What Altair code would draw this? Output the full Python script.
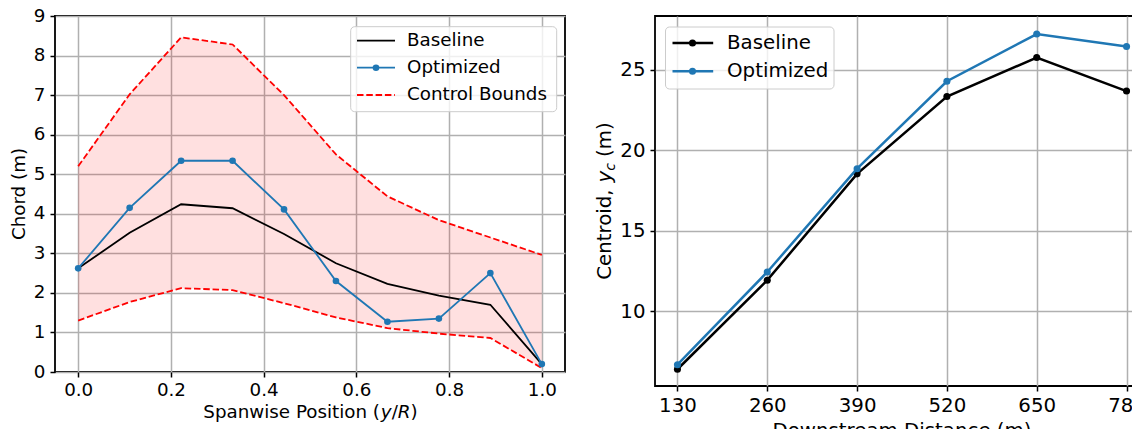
import altair as alt
import pandas as pd

# ---------------- data ----------------
span = [0.0, 0.111, 0.222, 0.333, 0.444, 0.556, 0.667, 0.778, 0.889, 1.0]
chord_baseline = [2.62, 3.52, 4.24, 4.14, 3.49, 2.75, 2.23, 1.93, 1.70, 0.20]
chord_optimized = [2.62, 4.15, 5.34, 5.34, 4.11, 2.30, 1.27, 1.35, 2.50, 0.20]
bound_upper = [5.20, 7.02, 8.46, 8.28, 7.00, 5.50, 4.44, 3.84, 3.40, 2.96]
bound_lower = [1.30, 1.77, 2.12, 2.07, 1.74, 1.38, 1.11, 0.97, 0.86, 0.10]

distance = [130, 260, 390, 520, 650, 780]
centroid_baseline = [6.40, 11.93, 18.53, 23.33, 25.75, 23.67]
centroid_optimized = [6.68, 12.44, 18.85, 24.28, 27.21, 26.44]

left_legend_labels = ["Baseline", "Optimized", "Control Bounds"]
right_legend_labels = ["Baseline", "Optimized"]

left_x_ticks = [0.0, 0.2, 0.4, 0.6, 0.8, 1.0]
left_y_ticks = [0, 1, 2, 3, 4, 5, 6, 7, 8, 9]
right_x_ticks = [130, 260, 390, 520, 650, 780]
right_y_ticks = [10, 15, 20, 25]

# ---------------- style ----------------
FONT = "DejaVu Sans"
BLUE = "#1f77b4"
RED = "#ff0000"
GRID = "#b0b0b0"
L_FS = 18.3
R_FS = 19.8
L_W, L_H = 510, 356
R_W, R_H = 494, 370
DASH = [6.5, 2.8]
L_EXT = 47   # space kept for the left panel's y axis
R_EXT = 64   # space kept for the right panel's y axis
FRAME_W, FRAME_H = 1124, 421


def make_axis(values, fs, fmt, extent=None, pad=5):
    kw = dict(values=values, title=None, grid=True, gridColor=GRID, gridWidth=1.5,
              domain=False, ticks=True, tickColor="black", tickSize=5, tickWidth=1.5,
              labelColor="black", labelFont=FONT, labelFontSize=fs, labelPadding=pad,
              labelOverlap=False, labelFlush=False, format=fmt)
    if extent is not None:
        kw["minExtent"] = extent
        kw["maxExtent"] = extent
    return alt.Axis(**kw)


def one(label=""):
    return alt.Chart(pd.DataFrame({"label": [label]}))


def text_piece(txt, x, y, fs, align="left", baseline="alphabetic", angle=0, style="normal"):
    return one(txt).mark_text(align=align, baseline=baseline, angle=angle, font=FONT,
                              fontSize=fs, fontStyle=style, color="black").encode(
        x=alt.value(x), y=alt.value(y), text=alt.Text("label:N"))


def legend_box(x1, x2, y1, y2):
    return one().mark_rect(fill="white", fillOpacity=0.8, stroke="#cccccc", strokeWidth=1,
                           cornerRadius=4).encode(
        x=alt.value(x1), x2=alt.value(x2), y=alt.value(y1), y2=alt.value(y2))


def legend_rule(x1, x2, y, color, width, dash=None):
    kw = dict(color=color, strokeWidth=width)
    if dash:
        kw["strokeDash"] = dash
    return one().mark_rule(**kw).encode(x=alt.value(x1), x2=alt.value(x2), y=alt.value(y))


def legend_dot(x, y, color, size):
    return one().mark_point(filled=True, color=color, size=size, opacity=1).encode(
        x=alt.value(x), y=alt.value(y))


# ---------------- left panel ----------------
left_df = pd.DataFrame({"span": span, "baseline": chord_baseline, "optimized": chord_optimized,
                        "upper": bound_upper, "lower": bound_lower})
lx = alt.X("span:Q", scale=alt.Scale(domain=[-0.05, 1.05], nice=False, zero=False),
           axis=make_axis(left_x_ticks, L_FS, ".1f", pad=4))


def ly(field):
    return alt.Y(f"{field}:Q", scale=alt.Scale(domain=[0, 9], nice=False, zero=False),
                 axis=make_axis(left_y_ticks, L_FS, "d", extent=L_EXT, pad=5))


lbase = alt.Chart(left_df)
l_area = lbase.mark_area(color=RED, opacity=0.12).encode(x=lx, y=ly("lower"), y2=alt.Y2("upper:Q"))
l_up = lbase.mark_line(color=RED, strokeWidth=1.8, strokeDash=DASH).encode(x=lx, y=ly("upper"))
l_lo = lbase.mark_line(color=RED, strokeWidth=1.8, strokeDash=DASH).encode(x=lx, y=ly("lower"))
l_base = lbase.mark_line(color="black", strokeWidth=1.8).encode(x=lx, y=ly("baseline"))
l_opt = lbase.mark_line(color=BLUE, strokeWidth=1.8).encode(x=lx, y=ly("optimized"))
l_optp = lbase.mark_point(filled=True, color=BLUE, size=44, opacity=1).encode(x=lx, y=ly("optimized"))

# legend (inside plot, upper right)
l_rows = [24.7, 51.7, 79.0]
l_leg = [legend_box(295.7, 501.7, 10.7, 95.7),
         legend_rule(302, 340, l_rows[0], "black", 1.8),
         legend_rule(302, 340, l_rows[1], BLUE, 1.8),
         legend_dot(321, l_rows[1], BLUE, 44),
         legend_rule(302, 340, l_rows[2], RED, 1.8, DASH)]
for lab, yy in zip(left_legend_labels, l_rows):
    l_leg.append(text_piece(lab, 352, yy, L_FS, baseline="middle"))

# axis titles (pieces so that the math letters can be italic)
l_titles = [text_piece("Chord (m)", -30, L_H / 2, L_FS, align="center", angle=270)]
x_pieces = [("Spanwise Position (", "normal", 9.705), ("y", "italic", 0.592), ("/", "normal", 0.337),
            ("R", "italic", 0.695), (")", "normal", 0.390)]
total = sum(p[2] for p in x_pieces) * L_FS
cx = 255.5 - total / 2
for txt, st, w in x_pieces:
    l_titles.append(text_piece(txt, cx, 401.5, L_FS, style=st))
    cx += w * L_FS

left = alt.layer(l_area, l_up, l_lo, l_base, l_opt, l_optp, *l_leg, *l_titles).properties(
    width=L_W, height=L_H)

# ---------------- right panel ----------------
right_df = pd.DataFrame({"distance": distance, "baseline": centroid_baseline,
                         "optimized": centroid_optimized})
rx = alt.X("distance:Q", scale=alt.Scale(domain=[97.5, 812.5], nice=False, zero=False),
           axis=make_axis(right_x_ticks, R_FS, "d", pad=4))


def ry(field):
    return alt.Y(f"{field}:Q", scale=alt.Scale(domain=[5.36, 28.33], nice=False, zero=False),
                 axis=make_axis(right_y_ticks, R_FS, "d", extent=R_EXT, pad=5))


rbase = alt.Chart(right_df)
r_base = rbase.mark_line(color="black", strokeWidth=2.5).encode(x=rx, y=ry("baseline"))
r_basep = rbase.mark_point(filled=True, color="black", size=50, opacity=1).encode(x=rx, y=ry("baseline"))
r_opt = rbase.mark_line(color=BLUE, strokeWidth=2.5).encode(x=rx, y=ry("optimized"))
r_optp = rbase.mark_point(filled=True, color=BLUE, size=50, opacity=1).encode(x=rx, y=ry("optimized"))

r_rows = [27.0, 55.3]
r_leg = [legend_box(10.5, 179, 11, 73),
         legend_rule(17.5, 58.2, r_rows[0], "black", 2.5),
         legend_dot(37.5, r_rows[0], "black", 50),
         legend_rule(17.5, 58.2, r_rows[1], BLUE, 2.5),
         legend_dot(37.5, r_rows[1], BLUE, 50)]
for lab, yy in zip(right_legend_labels, r_rows):
    r_leg.append(text_piece(lab, 72, yy, R_FS, baseline="middle"))

r_titles = [text_piece("Downstream Distance (m)", R_W / 2, 420.5, R_FS, align="center")]
sub_fs = R_FS * 0.7
SPACE = 0.318 * R_FS
y_pieces = [("Centroid,", "normal", 4.911 * R_FS, R_FS, 0),
            ("y", "italic", 0.592 * R_FS, R_FS, 0),
            ("c", "italic", 0.550 * sub_fs + SPACE, sub_fs, 4),
            ("(m)", "normal", 1.754 * R_FS, R_FS, 0)]
total = sum(p[2] for p in y_pieces)
cy = R_H / 2 + total / 2
for txt, st, w, fs, shift in y_pieces:
    r_titles.append(text_piece(txt, -44.4 + shift, cy, fs, angle=270, style=st))
    cy -= w

right = alt.layer(r_base, r_basep, r_opt, r_optp, *r_leg, *r_titles).properties(
    width=R_W, height=R_H)

# the right panel runs past the window, as in the reference, so the frame is
# fixed and the overflow is cropped instead of shrinking the page
chart = alt.hconcat(left, right, spacing=24).properties(
    autosize=alt.AutoSizeParams(type="none"),
    padding={"left": L_EXT, "top": 8, "right": FRAME_W - L_EXT, "bottom": FRAME_H - 8},
).configure_view(stroke="black", strokeWidth=1.8)

chart.save("out.html", embed_options={"renderer": "svg", "actions": False})
